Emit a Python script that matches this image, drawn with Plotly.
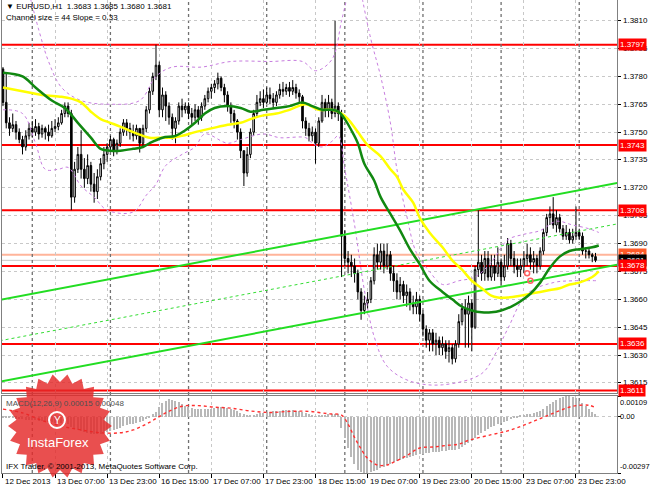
import math
import plotly.graph_objects as go

# ---------------- data (EURUSD H1, values in pips relative to 1.3700) ----------------
BASE = 1.3700
PIP = 0.0001

time_labels = ["12 Dec 2013", "13 Dec 07:00", "13 Dec 23:00", "16 Dec 15:00", "17 Dec 07:00",
               "17 Dec 23:00", "18 Dec 15:00", "19 Dec 07:00", "19 Dec 23:00", "20 Dec 15:00",
               "23 Dec 07:00", "23 Dec 23:00"]
time_label_bars = [0, 16, 32, 48, 64, 80, 96, 112, 128, 144, 160, 176]
day_separator_bars = [9, 33, 57, 81, 105, 129, 153, 177]

first_open = 84
closes = [
    66, 55, 52, 54, 50, 46, 42, 48, 52, 50, 53, 49, 52, 50, 48, 52,
    53, 55, 60, 64, 60, 15, 30, 38, 30, 25, 32, 22, 18, 26, 33, 38,
    42, 46, 40, 44, 50, 55, 52, 50, 48, 52, 44, 52, 62, 72, 80, 86,
    62, 70, 64, 58, 52, 56, 64, 62, 64, 60, 58, 62, 58, 64, 68, 72,
    74, 76, 79, 74, 70, 64, 60, 56, 50, 40, 28, 38, 50, 60, 66, 68,
    66, 70, 68, 66, 70, 73, 72, 74, 72, 74, 71, 69, 56, 52, 48, 50,
    44, 56, 66, 62, 66, 60, 64, 60, -6, -18, -20, -22, -26, -36, -46, -42,
    -40, -30, -16, -20, -14, -22, -16, -26, -30, -36, -32, -38, -36, -42, -44, -40,
    -48, -56, -62, -58, -64, -62, -66, -64, -68, -66, -72, -64, -52, -45, -48, -42,
    -55, -24, -20, -26, -18, -28, -22, -26, -20, -28, -22, -10, -18, -22, -24, -22,
    -18, -16, -20, -18, -22, -14, -4, 4, 6, 0, 4, -2, -6, -4, -8, -6,
    -4, -6, -14, -14, -16, -17, -19]
highs = [
    85, 82, 58, 60, 56, 52, 48, 51, 55, 56, 57, 55, 54, 53, 54, 56,
    57, 58, 62, 66, 66, 62, 34, 42, 51, 36, 38, 34, 28, 30, 36, 42,
    44, 48, 47, 46, 52, 57, 57, 55, 54, 54, 52, 54, 64, 74, 82, 97,
    88, 74, 72, 66, 60, 58, 66, 68, 66, 66, 63, 65, 64, 66, 70, 74,
    76, 78, 82, 80, 76, 72, 66, 62, 57, 52, 40, 42, 52, 62, 70, 72,
    73, 74, 74, 71, 72, 76, 77, 76, 77, 78, 76, 73, 70, 58, 55, 53,
    52, 58, 70, 68, 70, 68, 110, 66, 62, -3, -14, -16, -18, -24, -34, -38,
    -36, -28, -12, -10, -10, -10, -10, -14, -22, -26, -28, -30, -32, -34, -38, -36,
    -38, -46, -54, -56, -56, -58, -60, -60, -62, -62, -64, -62, -48, -42, -40, -38,
    -40, -22, 8, -16, -14, -14, -16, -16, -12, -18, -16, -7, -8, -14, -18, -18,
    -14, -10, -12, -14, -16, -12, -2, 6, 10, 15, 8, 6, 0, 0, -2, -2,
    10, -2, -4, -12, -12, -15, -15]
lows = [
    64, 52, 48, 50, 46, 44, 38, 40, 46, 47, 48, 46, 47, 46, 45, 47,
    50, 51, 54, 58, 58, 8, 12, 28, 25, 20, 22, 18, 12, 14, 24, 30,
    34, 40, 37, 38, 42, 48, 48, 46, 45, 46, 39, 42, 50, 60, 70, 78,
    58, 58, 56, 54, 46, 44, 54, 58, 60, 57, 54, 56, 54, 56, 62, 66,
    68, 71, 73, 72, 66, 61, 55, 52, 46, 36, 21, 26, 36, 48, 58, 64,
    63, 65, 65, 63, 64, 68, 69, 70, 69, 70, 68, 66, 52, 48, 45, 45,
    33, 42, 55, 58, 58, 57, 58, 56, -28, -22, -26, -28, -31, -40, -51, -48,
    -45, -42, -32, -24, -24, -26, -24, -30, -36, -40, -40, -42, -44, -46, -48, -48,
    -52, -60, -66, -68, -68, -70, -70, -70, -72, -74, -75, -74, -66, -54, -66, -66,
    -68, -56, -28, -30, -30, -30, -30, -30, -28, -32, -30, -24, -22, -26, -28, -28,
    -26, -22, -24, -26, -26, -24, -16, -6, 0, -2, -4, -4, -8, -8, -10, -10,
    -8, -8, -16, -18, -18, -20, -20]

# moving averages: (bar, pips)
green_ma_bars = [0, 6, 10, 15, 19, 23, 27, 30, 33, 36, 40, 43, 45, 49, 53, 56, 59, 62, 65, 69, 73, 76,
                 80, 84, 88, 92, 95, 98, 101, 103, 105, 107, 109, 111, 114, 116, 119, 122, 125, 128,
                 131, 135, 138, 141, 144, 147, 150, 153, 156, 159, 162, 165, 168, 171, 174, 177, 181, 183]
green_ma_vals = [82, 80, 74, 67, 63, 55, 47, 41, 40, 40, 41, 42, 44, 47, 48, 51, 55, 60, 63, 64, 63, 61,
                 62, 63, 64, 66, 64, 62, 62, 61, 57, 51, 44, 33, 24, 15, 6, -3, -13, -21,
                 -30, -36, -40, -44, -46, -47, -47, -46, -44, -41, -37, -31, -23, -17, -14, -13, -12, -11]
yellow_ma_bars = [0, 6, 12, 18, 21, 24, 27, 30, 33, 36, 40, 43, 45, 49, 52, 55, 59, 64, 69, 73, 76, 80,
                  84, 88, 93, 97, 101, 104, 106, 109, 112, 116, 119, 121, 123, 126, 128, 131, 135, 138,
                  141, 144, 147, 150, 152, 155, 159, 162, 165, 168, 171, 174, 177, 181, 183]
yellow_ma_vals = [74, 72, 70, 69, 68, 66, 61, 57, 55, 53, 50, 48, 47, 47, 47, 48, 50, 52, 54, 55, 57, 59,
                  60, 62, 65, 62, 62, 60, 57, 50, 43, 37, 30, 26, 19, 12, 4, -4, -12, -19,
                  -24, -30, -34, -38, -39, -39, -38, -37, -36, -35, -34, -32, -31, -28, -25]

# envelope bands (purple dotted): (bar, pips)
band_up1_bars = [8, 11, 14, 18, 24, 33, 42, 47, 52, 61, 70, 82, 92, 96, 101, 104, 106]
band_up1_vals = [125, 105, 88, 74, 67, 65, 67, 80, 85, 85, 88, 88, 88, 83, 89, 110, 125]
band_up2_bars = [110, 113, 116, 119, 121, 124, 127, 131, 135, 140, 145, 150, 155, 160, 165, 170, 175, 180, 183]
band_up2_vals = [125, 100, 80, 55, 30, 5, -15, -25, -32, -30, -28, -20, -8, -5, -3, 2, 0, -2, -4]
band_lo_bars = [0, 6, 10, 13, 17, 20, 24, 28, 32, 40, 44, 47, 50, 55, 59, 62, 69, 73, 80, 85, 93, 95,
                98, 101, 103, 105, 108, 111, 114, 118, 125, 135, 147, 151, 155, 161, 169, 175, 183]
band_lo_vals = [62, 60, 44, 30, 30, 31, 21, 15, 8, 7, 16, 22, 32, 38, 42, 49, 44, 46, 49, 47, 47, 44,
                42, 45, 48, 30, 0, -35, -60, -76, -84, -86, -80, -70, -56, -37, -31, -30, -30]

# regression channel (price at bar -1 and bar 189)
channel_bars = [-1, 189]
channel_upper = [1.36597, 1.37227]
channel_middle = [1.36377, 1.37007]
channel_lower = [1.36157, 1.36787]

# horizontal levels
red_levels = [1.3797, 1.3743, 1.3708, 1.3678, 1.3636, 1.3611]
ask_level = 1.3684
bid_level = 1.3681
price_ticks = [1.3810, 1.3795, 1.3780, 1.3765, 1.3750, 1.3735, 1.3720, 1.3705, 1.3690,
               1.3675, 1.3660, 1.3645, 1.3630, 1.3615]

# MACD(12,26,9) main values (1e-5 units), one per bar
macd_main = [
    -2, -4, -6, -8, -10, -12, -14, -16, -16, -18, -20, -22, -24, -26, -28, -30,
    -32, -32, -34, -36, -40, -55, -65, -72, -78, -82, -86, -90, -92, -92, -90, -86,
    -80, -74, -70, -64, -58, -50, -44, -40, -36, -32, -30, -24, -14, -2, 12, 26,
    50, 70, 85, 92, 90, 84, 76, 66, 58, 50, 46, 42, 40, 38, 38, 40,
    42, 46, 50, 52, 50, 46, 42, 36, 30, 22, 12, 8, 8, 10, 14, 18,
    22, 24, 26, 28, 30, 32, 34, 34, 34, 34, 32, 30, 24, 18, 12, 8,
    2, 4, 8, 10, 12, 12, 14, 12, -60, -115, -165, -210, -250, -280, -292, -297,
    -296, -292, -286, -280, -272, -264, -256, -248, -240, -234, -228, -222, -216, -211, -206, -202,
    -198, -195, -192, -190, -188, -186, -184, -182, -180, -178, -176, -174, -168, -160, -150, -140,
    -130, -112, -96, -84, -74, -64, -56, -48, -40, -34, -28, -22, -14, -8, -2, 4,
    8, 12, 16, 20, 26, 32, 42, 54, 66, 78, 88, 96, 103, 108, 109, 105,
    96, 84, 70, 55, 40, 26, 15]
signal_bars = [0, 6, 12, 18, 24, 30, 36, 40, 45, 50, 55, 60, 65, 70, 76, 82, 88, 94, 100, 104, 106,
               108, 110, 112, 115, 118, 120, 124, 128, 132, 136, 140, 143, 150, 155, 160, 165, 170,
               175, 180, 182]
signal_vals = [40, 20, -20, -50, -70, -85, -85, -70, -30, 20, 55, 58, 50, 45, 30, 22, 28, 28, 15, 8, -40,
               -110, -170, -220, -255, -255, -240, -205, -165, -160, -152, -145, -125, -95, -75, -45,
               -10, 25, 55, 60, 48]
macd_min, macd_max = -0.00297, 0.00109

# ---------------- geometry helpers (pixels -> paper) ----------------
W, H = 650, 488
ML, MR, MT, MB = 2, 33, 0, 15
PW, PH = W - ML - MR, H - MT - MB


def px(x):
    return (x - ML) / PW


def py(y):
    return (H - MB - y) / PH


def p(v):
    return BASE + v * PIP


n = len(closes)
bars = list(range(n))
opens = [first_open] + closes[:-1]
o_p = [p(v) for v in opens]
c_p = [p(v) for v in closes]
h_p = [p(max(h, o, c)) for h, o, c in zip(highs, opens, closes)]
l_p = [p(min(lo, o, c)) for lo, o, c in zip(lows, opens, closes)]

XR = [-0.3, 188.6]
fig = go.Figure()

band_style = dict(color="#c77ddf", width=1, dash="dot")
for bx, bv in [(band_up1_bars, band_up1_vals), (band_up2_bars, band_up2_vals), (band_lo_bars, band_lo_vals)]:
    fig.add_trace(go.Scatter(x=bx, y=[p(v) for v in bv], mode="lines", line=dict(shape="spline", **band_style),
                             hoverinfo="skip", showlegend=False))

fig.add_trace(go.Scatter(x=channel_bars, y=channel_middle, mode="lines",
                         line=dict(color="#33dd33", width=1, dash="dot"), showlegend=False))
fig.add_trace(go.Scatter(x=channel_bars, y=channel_upper, mode="lines",
                         line=dict(color="#22dd22", width=2), showlegend=False))
fig.add_trace(go.Scatter(x=channel_bars, y=channel_lower, mode="lines",
                         line=dict(color="#22dd22", width=2), showlegend=False))

fig.add_trace(go.Candlestick(
    x=bars, open=o_p, high=h_p, low=l_p, close=c_p,
    increasing=dict(fillcolor="white", line=dict(color="black", width=1)),
    decreasing=dict(fillcolor="black", line=dict(color="black", width=1)),
    whiskerwidth=0, showlegend=False, xaxis="x", yaxis="y"))

fig.add_trace(go.Scatter(x=yellow_ma_bars, y=[p(v) for v in yellow_ma_vals], mode="lines",
                         line=dict(color="#ffff00", width=2.5, shape="spline"), showlegend=False))
fig.add_trace(go.Scatter(x=green_ma_bars, y=[p(v) for v in green_ma_vals], mode="lines",
                         line=dict(color="#118811", width=2.5, shape="spline"), showlegend=False))

fig.add_trace(go.Scatter(x=[161, 162], y=[p(-26), p(-30)], mode="markers",
                         marker=dict(symbol="circle-open", size=5, color="#ff6060", line=dict(width=1.5)),
                         showlegend=False))

fig.add_trace(go.Bar(x=bars, y=[v * 1e-5 for v in macd_main], marker=dict(color="#b8b8b8", line=dict(width=0)),
                     width=0.4, xaxis="x2", yaxis="y2", showlegend=False))
fig.add_trace(go.Scatter(x=signal_bars, y=[v * 1e-5 for v in signal_vals], mode="lines",
                         line=dict(color="#ff3030", width=1.4, dash="dot", shape="spline"),
                         xaxis="x2", yaxis="y2", showlegend=False))

shapes = []
for lv in red_levels:
    shapes.append(dict(type="line", xref="paper", yref="y", x0=0, x1=1, y0=lv, y1=lv,
                       line=dict(color="#ff0000", width=2), layer="below"))
shapes.append(dict(type="line", xref="paper", yref="y", x0=0, x1=1, y0=ask_level, y1=ask_level,
                   line=dict(color="#ffb49a", width=2), layer="below"))
shapes.append(dict(type="line", xref="paper", yref="y", x0=0, x1=1, y0=bid_level, y1=bid_level,
                   line=dict(color="#c8c8c8", width=1), layer="below"))
for b in day_separator_bars:
    shapes.append(dict(type="line", xref="x", yref="paper", x0=b, x1=b, y0=0, y1=1,
                       line=dict(color="#707070", width=1.3, dash="dot"), layer="below"))

# InstaForex logo (decoration)
cx, cy, r_out, r_in, spikes = 60, 426, 52, 44, 22
pts = []
for k in range(spikes * 2):
    ang = math.pi * k / spikes
    r = r_out if k % 2 == 0 else r_in
    pts.append((px(cx + r * math.cos(ang)), py(cy + r * math.sin(ang))))
path = "M " + " L ".join(f"{a:.5f},{b:.5f}" for a, b in pts) + " Z"
shapes.append(dict(type="path", xref="paper", yref="paper", path=path,
                   fillcolor="rgba(228,40,40,0.82)", line=dict(width=0), layer="above"))
shapes.append(dict(type="circle", xref="paper", yref="paper", x0=px(49), x1=px(65), y0=py(428), y1=py(412),
                   line=dict(color="white", width=2), layer="above"))

annotations = []
FAM = "Liberation Sans, Arial, sans-serif"
font = dict(family=FAM, size=8, color="black")
annotations.append(dict(text="▼ EURUSD,H1  1.3683 1.3685 1.3680 1.3681", xref="paper", yref="paper",
                        x=px(4), y=py(7), xanchor="left", yanchor="middle", showarrow=False, font=font))
annotations.append(dict(text="Channel size = 44 Slope = 0.33", xref="paper", yref="paper",
                        x=px(4), y=py(18), xanchor="left", yanchor="middle", showarrow=False, font=font))
annotations.append(dict(text="MACD(12,26,9) 0.00015 0.00048", xref="paper", yref="paper",
                        x=px(4), y=py(403), xanchor="left", yanchor="middle", showarrow=False,
                        font=dict(family=FAM, size=8, color="#505050")))
annotations.append(dict(text="IFX Trader, © 2001-2013, MetaQuotes Software Corp.", xref="paper", yref="paper",
                        x=px(4), y=py(466), xanchor="left", yanchor="middle", showarrow=False, font=font))
annotations.append(dict(text="InstaForex", xref="paper", yref="paper", x=px(58), y=py(442),
                        xanchor="center", yanchor="middle", showarrow=False,
                        font=dict(family=FAM, size=13, color="white")))
annotations.append(dict(text="Y", xref="paper", yref="paper", x=px(57), y=py(420),
                        xanchor="center", yanchor="middle", showarrow=False,
                        font=dict(family=FAM, size=10, color="white")))
for b, t in zip(time_label_bars, time_labels):
    annotations.append(dict(text=t, xref="x2", yref="paper", x=b, y=py(481), xanchor="left",
                            yanchor="middle", showarrow=False, xshift=0, font=font))
for v in price_ticks:
    annotations.append(dict(text=f"{v:.4f}", xref="paper", yref="y", x=1, y=v, xanchor="left",
                            yanchor="middle", showarrow=False, xshift=4, font=font))
for v, t, ya in [(macd_max, "0.00109", "top"), (0, "0.00", "middle"), (macd_min, "-0.00297", "bottom")]:
    annotations.append(dict(text=t, xref="paper", yref="y2", x=1, y=v, xanchor="left", yanchor=ya,
                            showarrow=False, xshift=1, font=dict(family=FAM, size=7.5, color="black")))
label_specs = [(lv, f"{lv:.4f}", "#ff0000") for lv in red_levels]
label_specs.insert(3, (ask_level, f"{ask_level:.4f}", "#ff5a28"))
label_specs.insert(4, (bid_level, f"{bid_level:.4f}", "#000000"))
for lv, t, col in label_specs:
    annotations.append(dict(text=t, xref="paper", yref="y", x=1, y=lv, xanchor="left", yanchor="middle",
                            showarrow=False, bgcolor=col, borderpad=1, xshift=1,
                            font=dict(family=FAM, size=8, color="white")))

main_dom = [py(393), 1]
macd_dom = [0, py(396)]
grid = dict(showgrid=True, gridcolor="#c8c8c8", griddash="dot", gridwidth=1)
fig.update_layout(
    width=W, height=H, margin=dict(l=ML, r=MR, t=MT, b=MB),
    paper_bgcolor="white", plot_bgcolor="white", showlegend=False, bargap=0,
    shapes=shapes, annotations=annotations,
    xaxis=dict(domain=[0, 1], range=XR, tickvals=time_label_bars, showticklabels=False, ticks="",
               showline=True, linecolor="#808080", mirror=True, zeroline=False,
               rangeslider=dict(visible=False), anchor="y", **grid),
    yaxis=dict(domain=main_dom, range=[1.36096, 1.38211], side="right", tickvals=price_ticks,
               showticklabels=False, ticks="outside", ticklen=3, tickcolor="black",
               showline=True, linecolor="#808080", mirror=True, zeroline=False,
               anchor="x", **grid),
    xaxis2=dict(domain=[0, 1], range=XR, tickvals=time_label_bars, showticklabels=False, ticks="outside",
                ticklen=4, tickcolor="black", showline=True, linecolor="#808080", mirror=True,
                zeroline=False, anchor="y2", **grid),
    yaxis2=dict(domain=macd_dom, range=[macd_min, macd_max], side="right",
                tickvals=[macd_max, 0, macd_min], showticklabels=False,
                ticks="outside", ticklen=3, tickcolor="black", showline=True,
                linecolor="#808080", mirror=True, zeroline=False, anchor="x2", **grid),
)

fig.write_html("out.html", config={"displayModeBar": False},
               post_script="document.body.style.margin='0';document.body.style.padding='0';")
